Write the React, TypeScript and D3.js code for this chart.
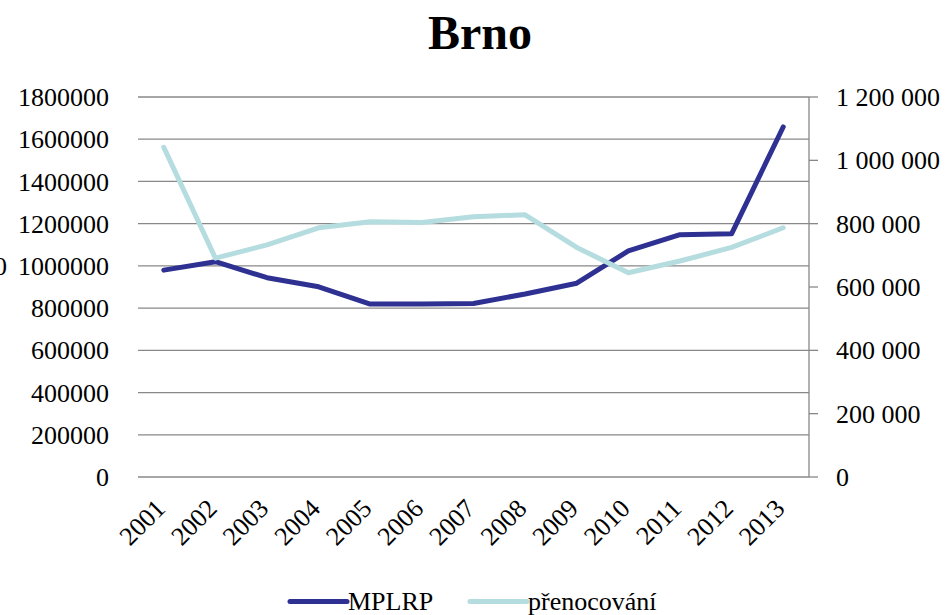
import React from "react";
import * as d3 from "d3";

const years = ["2001","2002","2003","2004","2005","2006","2007","2008","2009","2010","2011","2012","2013"];
const mplrp = [980000, 1020000, 944000, 901000, 819000, 820000, 822000, 867000, 918000, 1071000, 1148000, 1152000, 1658000];
const prenocovani = [1041000, 691000, 733000, 787000, 806000, 804000, 822000, 828000, 725000, 645000, 682000, 725000, 787000];
const leftTicks = [0, 200000, 400000, 600000, 800000, 1000000, 1200000, 1400000, 1600000, 1800000];
const rightTicks = [0, 200000, 400000, 600000, 800000, 1000000, 1200000];
const seriesNames = ["MPLRP", "přenocování"];
const seriesColors = ["#2E3192", "#B5DDE0"];

const W = 946, H = 615;
const left = 138, right = 809, top = 97, bottom = 477;
const FONT = "Liberation Serif, Tinos, Times New Roman, DejaVu Serif, serif";

export default function App() {
  const x = d3.scaleBand<string>().domain(years).range([left, right]);
  const cx = (y: string) => (x(y) as number) + x.bandwidth() / 2;
  const yL = d3.scaleLinear().domain([0, 1800000]).range([bottom, top]);
  const yR = d3.scaleLinear().domain([0, 1200000]).range([bottom, top]);
  const fmtR = (v: number) => d3.format(",")(v).replace(/,/g, " ");

  const lineL = d3.line<number>().x((_, i) => cx(years[i])).y((d) => yL(d));
  const lineR = d3.line<number>().x((_, i) => cx(years[i])).y((d) => yR(d));

  const ts: React.CSSProperties = { fontFamily: FONT };

  return (
    <svg width={W} height={H} style={{ position: "absolute", left: 0, top: 0, background: "#fff", fontFamily: FONT }}>
      <rect x={0} y={0} width={W} height={H} fill="#fff" />
      <text x={480} y={49} textAnchor="middle" fontSize={48} fontWeight="bold" fill="#000" style={ts}>Brno</text>
      <text x={7} y={266} dy="0.35em" textAnchor="end" fontSize={26} fill="#000" style={ts}>0</text>
      {leftTicks.map((t) => (
        <line key={"g" + t} x1={left} x2={right} y1={yL(t)} y2={yL(t)} stroke="#888" strokeWidth={1.3} />
      ))}
      {leftTicks.map((t) => (
        <text key={"l" + t} x={109} y={yL(t)} dy="0.35em" textAnchor="end" fontSize={26} fill="#000" style={ts}>{t}</text>
      ))}
      <line x1={right} x2={right} y1={top} y2={bottom} stroke="#888" strokeWidth={1.3} />
      {rightTicks.map((t) => (
        <g key={"r" + t}>
          <line x1={right} x2={right + 9} y1={yR(t)} y2={yR(t)} stroke="#888" strokeWidth={1.3} />
          <text x={836} y={yR(t)} dy="0.35em" textAnchor="start" fontSize={26} fill="#000" style={ts}>{fmtR(t)}</text>
        </g>
      ))}
      {years.map((y) => (
        <text key={"x" + y} transform={`translate(${cx(y) + 3},${bottom + 33}) rotate(-45)`} textAnchor="end" fontSize={26} fill="#000" style={ts}>{y}</text>
      ))}
      <path d={lineL(mplrp) || ""} fill="none" stroke={seriesColors[0]} strokeWidth={5} strokeLinejoin="round" strokeLinecap="round" />
      <path d={lineR(prenocovani) || ""} fill="none" stroke={seriesColors[1]} strokeWidth={5} strokeLinejoin="round" strokeLinecap="round" />
      {seriesNames.map((n, i) => {
        const lx = i === 0 ? 290 : 470;
        return (
          <g key={n}>
            <line x1={lx} x2={lx + 57} y1={601.5} y2={601.5} stroke={seriesColors[i]} strokeWidth={5} strokeLinecap="round" />
            <text x={lx + 58} y={610} fontSize={26} fill="#000" style={ts}>{n}</text>
          </g>
        );
      })}
    </svg>
  );
}
